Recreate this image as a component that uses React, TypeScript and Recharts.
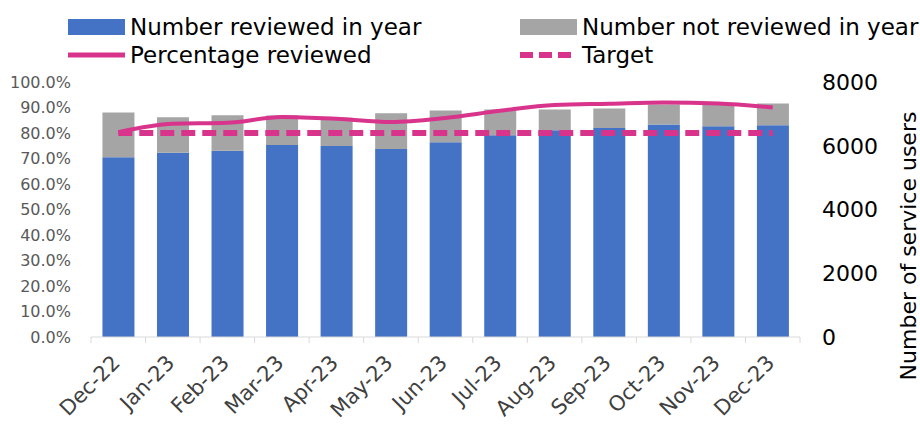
import { Bar, ComposedChart, Line, XAxis, YAxis } from "recharts";

const months = ["Dec-22", "Jan-23", "Feb-23", "Mar-23", "Apr-23", "May-23", "Jun-23", "Jul-23", "Aug-23", "Sep-23", "Oct-23", "Nov-23", "Dec-23"];
const reviewed = [5640, 5778, 5841, 6022, 5990, 5897, 6107, 6329, 6487, 6560, 6666, 6613, 6640];
const notReviewed = [1400, 1115, 1115, 930, 890, 1120, 1000, 810, 650, 610, 630, 680, 686];
const pctReviewed = [80.3, 83.6, 84.0, 86.3, 85.6, 84.3, 85.9, 88.7, 91.0, 91.5, 92.0, 91.6, 90.0];
const target = [80, 80, 80, 80, 80, 80, 80, 80, 80, 80, 80, 80, 80];
const pctTicks = [0, 10, 20, 30, 40, 50, 60, 70, 80, 90, 100];
const countTicks = [0, 2000, 4000, 6000, 8000];

const BLUE = "#4472C4";
const GREY = "#A5A5A5";
const PINK = "#D9348B";
const FONT = "'DejaVu Sans', Verdana, sans-serif";

const W = 920;
const H = 425;
const PLOT_LEFT = 91;
const PLOT_RIGHT = 800;
const PLOT_TOP = 82;
const PLOT_BOTTOM = 337;
const BAND = (PLOT_RIGHT - PLOT_LEFT) / months.length;

const data = months.map((m, i) => ({
  month: m,
  reviewed: reviewed[i],
  notReviewed: notReviewed[i],
  pct: pctReviewed[i],
  target: target[i],
}));

function XTick(props: any) {
  const { x, y, payload, index } = props;
  const ax = x + 3;
  const ay = y + 27;
  return (
    <g>
      <line x1={x - BAND / 2} x2={x - BAND / 2} y1={y} y2={y + 6} stroke="#D9D9D9" />
      {index === months.length - 1 && (
        <line x1={x + BAND / 2} x2={x + BAND / 2} y1={y} y2={y + 6} stroke="#D9D9D9" />
      )}
      <text
        x={ax}
        y={ay}
        transform={`rotate(-45, ${ax}, ${ay})`}
        textAnchor="end"
        fontSize={21}
        fontFamily={FONT}
        fill="#404040"
      >
        {payload.value}
      </text>
    </g>
  );
}

function Legendish() {
  const txt = { fontSize: 23, fontFamily: FONT, fill: "#000" };
  return (
    <svg width={W} height={75} style={{ position: "absolute", left: 0, top: 0 }}>
      <rect x={68} y={19} width={57} height={16} fill={BLUE} />
      <text x={130} y={27} dominantBaseline="central" {...txt}>Number reviewed in year</text>
      <rect x={520} y={19} width={57} height={16} fill={GREY} />
      <text x={582} y={27} dominantBaseline="central" {...txt}>Number not reviewed in year</text>
      <line x1={68} x2={125} y1={55} y2={55} stroke={PINK} strokeWidth={5} />
      <text x={130} y={55} dominantBaseline="central" {...txt}>Percentage reviewed</text>
      <line x1={520} x2={577} y1={55} y2={55} stroke={PINK} strokeWidth={6} strokeDasharray="13 6" />
      <text x={582} y={55} dominantBaseline="central" {...txt}>Target</text>
    </svg>
  );
}

export default function App() {
  return (
    <div style={{ position: "absolute", left: 0, top: 0, width: W, height: H, background: "#fff" }}>
      <ComposedChart
        width={W}
        height={H}
        data={data}
        margin={{ top: PLOT_TOP, right: 0, bottom: 0, left: 0 }}
        barCategoryGap="21%"
      >
        <XAxis
          dataKey="month"
          xAxisId="x"
          height={H - PLOT_BOTTOM}
          tickSize={0}
          tickMargin={0}
          interval={0}
          tick={<XTick />}
          axisLine={{ stroke: "#D9D9D9" }}
          tickLine={false}
        />
        <YAxis
          yAxisId="pct"
          orientation="left"
          width={PLOT_LEFT}
          domain={[0, 100]}
          ticks={pctTicks}
          tickFormatter={(v: number) => `${v.toFixed(1)}%`}
          axisLine={false}
          tickLine={false}
          tickSize={0}
          tickMargin={20}
          tick={{ fontSize: 16, fontFamily: FONT, fill: "#595959" }}
        />
        <YAxis
          yAxisId="count"
          orientation="right"
          width={W - PLOT_RIGHT}
          domain={[0, 8000]}
          ticks={countTicks}
          axisLine={false}
          tickLine={false}
          tickSize={0}
          tickMargin={22}
          tick={{ fontSize: 22, fontFamily: FONT, fill: "#000", textAnchor: "start" }}
          label={{
            content: () => (
              <text
                x={908}
                y={246}
                transform="rotate(-90, 908, 246)"
                textAnchor="middle"
                dominantBaseline="central"
                fontSize={22}
                fontFamily={FONT}
                fill="#000"
              >
                Number of service users
              </text>
            ),
          }}
        />
        <Bar dataKey="reviewed" xAxisId="x" yAxisId="count" stackId="s" fill={BLUE} isAnimationActive={false} />
        <Bar dataKey="notReviewed" xAxisId="x" yAxisId="count" stackId="s" fill={GREY} isAnimationActive={false} />
        <Line
          dataKey="target"
          xAxisId="x"
          yAxisId="pct"
          stroke={PINK}
          strokeWidth={6}
          strokeDasharray="14 7"
          dot={false}
          isAnimationActive={false}
        />
        <Line
          dataKey="pct"
          xAxisId="x"
          yAxisId="pct"
          type="monotone"
          stroke={PINK}
          strokeWidth={4}
          dot={false}
          isAnimationActive={false}
        />
      </ComposedChart>
      <Legendish />
    </div>
  );
}
